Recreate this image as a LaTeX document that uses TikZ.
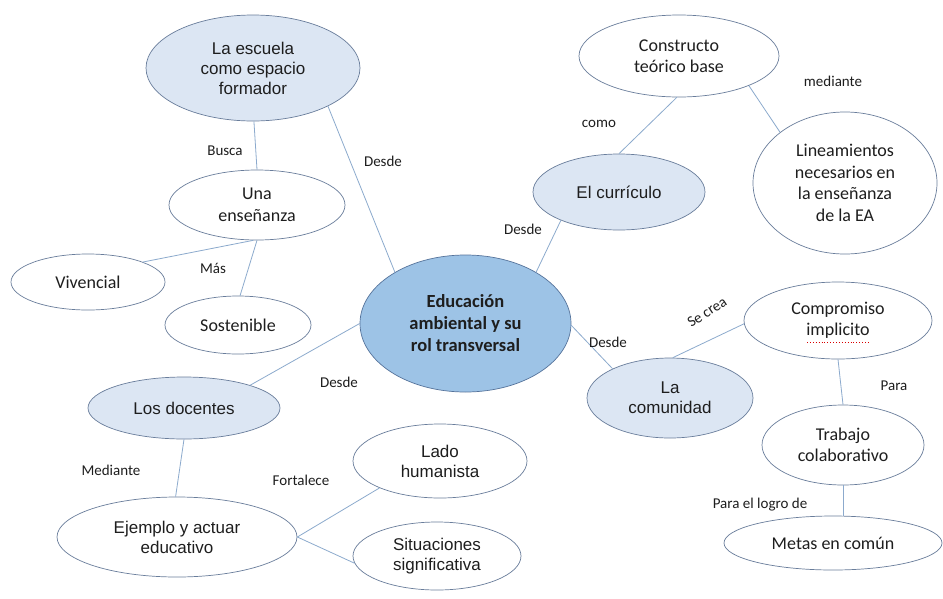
\documentclass[tikz,border=0pt]{standalone}
\usepackage{fontspec}
\setmainfont{Carlito}
\newfontfamily\calib{Carlito}
\newfontfamily\arialf{Liberation Sans}
\usetikzlibrary{shapes.geometric}
\definecolor{lightfill}{RGB}{220,230,243}
\definecolor{bluefill}{RGB}{157,195,230}
\definecolor{ellborder}{RGB}{105,125,155}
\definecolor{linecol}{RGB}{140,170,205}
\definecolor{txt}{RGB}{30,30,30}
\newcommand\nodecal{\calib\fontsize{18}{21.5}\selectfont}
\newcommand\nodear{\arialf\fontsize{17}{20}\selectfont}
\newcommand\lblfont{\calib\fontsize{15}{18}\selectfont}
\tikzset{
  ell/.style={ellipse, draw=ellborder, line width=0.7pt, inner sep=0pt, align=center, text=txt},
  lt/.style={ell, fill=lightfill, font=\nodear},
  wt/.style={ell, fill=white, font=\nodecal},
  wa/.style={ell, fill=white, font=\nodear},
  conn/.style={draw=linecol, line width=0.8pt},
  lbl/.style={font=\lblfont, text=txt, inner sep=0pt},
}
\begin{document}
\begin{tikzpicture}[x=1pt,y=-1pt]
\useasboundingbox[fill=white] (0,0) rectangle (943,598);
% nodes
\node[lt, minimum width=214pt, minimum height=106pt] (escuela) at (253,68) {La escuela\\como espacio\\formador};
\node[wt, minimum width=176pt, minimum height=70pt] (una) at (257,205) {Una\\enseñanza};
\node[wt, minimum width=154pt, minimum height=56pt] (viv) at (88,282) {Vivencial};
\node[wt, minimum width=146pt, minimum height=58pt] (sos) at (238,325) {Sostenible};
\node[ell, fill=bluefill, draw={rgb,255:red,85;green,115;blue,155}, minimum width=211pt, minimum height=137pt,
      font=\calib\bfseries\fontsize{18.5}{22}\selectfont] (edu) at (465.5,323.5) {Educación\\ambiental y su\\rol transversal};
\node[lt, minimum width=172pt, minimum height=76pt] (curr) at (619,192) {El currículo};
\node[wt, minimum width=200pt, minimum height=82pt] (cons) at (679,56) {Constructo\\teórico base};
\node[wt, minimum width=184pt, minimum height=142pt] (lin) at (845,183) {Lineamientos\\necesarios en\\la enseñanza\\de la EA};
\node[lt, minimum width=166pt, minimum height=80pt] (com) at (670,398) {La\\comunidad};
\node[wt, minimum width=188pt, minimum height=77pt] (comp) at (838,320.5) {Compromiso\\implicito};
\node[wt, minimum width=162pt, minimum height=80pt] (trab) at (843,445) {Trabajo\\colaborativo};
\node[wt, minimum width=218pt, minimum height=54pt] (metas) at (833,543) {Metas en común};
\node[lt, minimum width=192pt, minimum height=62pt] (doc) at (184,408) {Los docentes};
\node[wa, minimum width=240pt, minimum height=80pt] (ejem) at (177,537) {Ejemplo y actuar\\educativo};
\node[wa, minimum width=174pt, minimum height=74pt] (lado) at (440,461) {Lado\\humanista};
\node[wa, minimum width=168pt, minimum height=68pt] (sit) at (437,556) {Situaciones\\significativa};
% spell-check underline
\draw[red!85!black, dotted, line width=0.9pt] (807,342) -- (869,342);
% connectors
\draw[conn] (escuela.-89) -- (una.90);
\draw[conn] (escuela.-27) -- (edu.144.7);
\draw[conn] (una.-96) -- (viv.20);
\draw[conn] (una.-90) -- (sos.86);
\draw[conn] (edu.180) -- (doc.19);
\draw[conn] (doc.-90) -- (ejem.92);
\draw[conn] (ejem.0) -- (lado.204);
\draw[conn] (ejem.0) -- (sit.185);
\draw[conn] (edu.36.7) -- (curr.206);
\draw[conn] (curr.90) -- (cons.-93);
\draw[conn] (cons.-23.6) -- (lin.142);
\draw[conn] (edu.-1) -- (com.153);
\draw[conn] (com.86) -- (comp.182);
\draw[conn] (comp.-90) -- (trab.90);
\draw[conn] (trab.south) -- (trab.south |- metas.north);
% labels
\node[lbl] (l1) at (225,151) {Busca};
\node[lbl] (l2) at (383,161) {Desde};
\node[lbl] (l3) at (213,268) {Más};
\node[lbl] (l4) at (339,382) {Desde};
\node[lbl] (l5) at (111,470) {Mediante};
\node[lbl] (l6) at (301,480) {Fortalece};
\node[lbl] (l7) at (599,124) {como};
\node[lbl] (l8) at (523,229) {Desde};
\node[lbl] (l9) at (833,81) {mediante};
\node[lbl, rotate=33] (l10) at (707,312) {Se crea};
\node[lbl] (l11) at (608,342) {Desde};
\node[lbl] (l12) at (894,386) {Para};
\node[lbl] (l13) at (760,505) {Para el logro de};
\end{tikzpicture}
\end{document}
